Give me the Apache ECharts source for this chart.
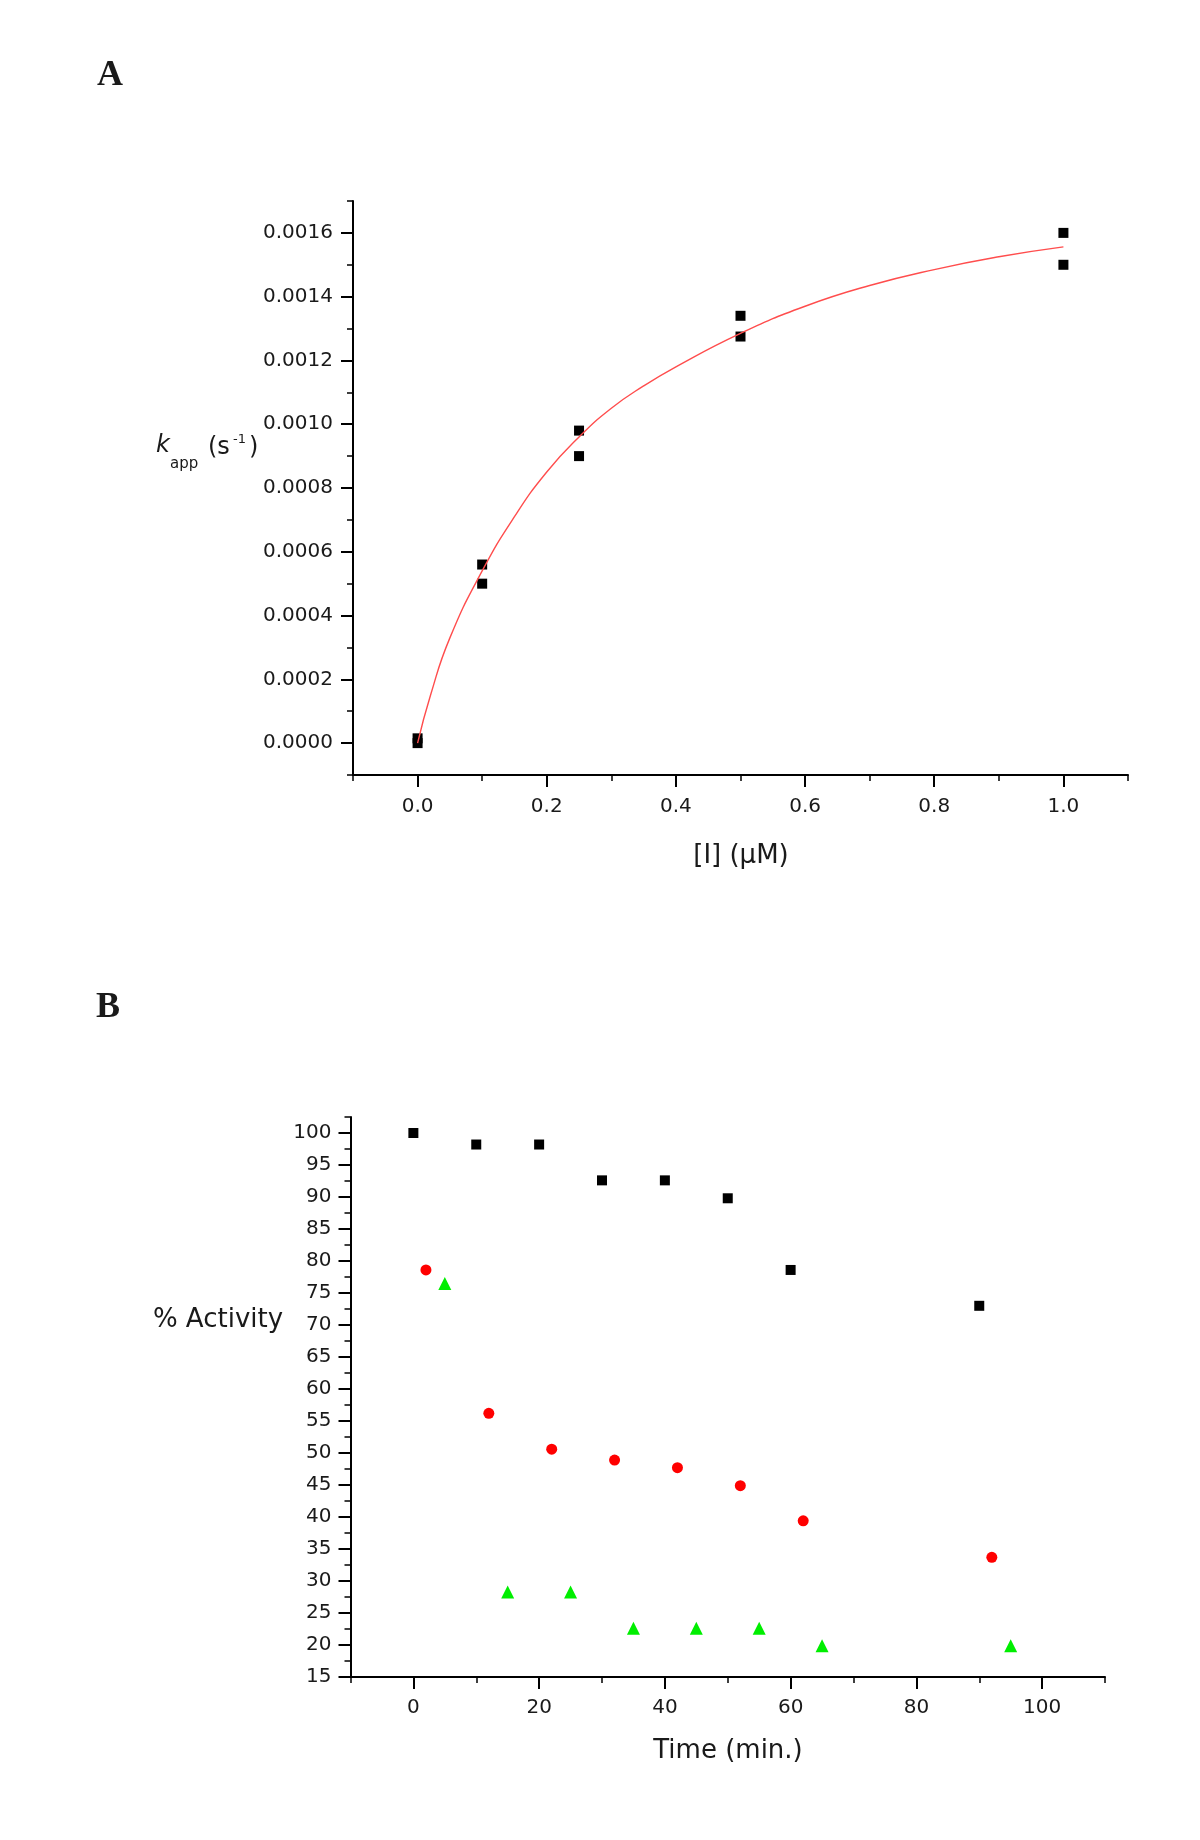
<!DOCTYPE html>
<html>
<head>
<meta charset="utf-8">
<script src="https://cdn.jsdelivr.net/npm/echarts@6/dist/echarts.min.js"></script>
<style>
  html, body { margin: 0; padding: 0; background: #fff; }
  #chart { width: 1200px; height: 1840px; }
</style>
</head>
<body>
<div id="chart"></div>
<script>
// ---------- Panel A data ----------
const inhibitorConc = [0, 0, 0.1, 0.1, 0.25, 0.25, 0.5, 0.5, 1.0, 1.0];
const kAppValues    = [0.000015, 0.0, 0.00056, 0.00050, 0.00098, 0.00090, 0.00134, 0.001275, 0.0016, 0.0015];
// fitted curve
const fitConc = [0, 0.02, 0.05, 0.1, 0.15, 0.2, 0.25, 0.3, 0.35, 0.4, 0.5, 0.6, 0.7, 0.8, 0.9, 1.0];
const fitKApp = [0, 0.00015, 0.00033, 0.00054, 0.00071, 0.00085, 0.00096, 0.00105, 0.00112, 0.00118, 0.001285, 0.00137, 0.001435, 0.001485, 0.001525, 0.001556];
const aXMajorTicks = [0, 0.2, 0.4, 0.6, 0.8, 1.0];
const aYMajorTicks = [0, 0.0002, 0.0004, 0.0006, 0.0008, 0.0010, 0.0012, 0.0014, 0.0016];

// ---------- Panel B data ----------
const timeBlack  = [0, 10, 20, 30, 40, 50, 60, 90];
const actBlack   = [100, 98.2, 98.2, 92.6, 92.6, 89.8, 78.6, 73.0];
const timeRed    = [2, 12, 22, 32, 42, 52, 62, 92];
const actRed     = [78.6, 56.2, 50.6, 48.9, 47.7, 44.9, 39.4, 33.7];
const timeGreen  = [5, 15, 25, 35, 45, 55, 65, 95];
const actGreen   = [76.5, 28.3, 28.3, 22.6, 22.6, 22.6, 19.9, 19.9];
const bXMajorTicks = [0, 20, 40, 60, 80, 100];
const bYMajorTicks = [15, 20, 25, 30, 35, 40, 45, 50, 55, 60, 65, 70, 75, 80, 85, 90, 95, 100];

const zip = (a, b) => a.map((v, i) => [v, b[i]]);
const FONT = 'DejaVu Sans';

function mainAxis(gridIndex, pos, min, max, interval, margin, fmt) {
  return {
    type: 'value', gridIndex, position: pos, min, max, interval,
    axisLine: { show: true, onZero: false, lineStyle: { color: '#000', width: 2 } },
    axisTick: { show: true, inside: false, length: 6, lineStyle: { color: '#000', width: 1.5 } },
    axisLabel: { show: true, margin, formatter: fmt, color: '#1a1a1a', fontFamily: FONT, fontSize: 20,
                 showMinLabel: true, showMaxLabel: true, hideOverlap: false },
    splitLine: { show: false }, minorTick: { show: false }
  };
}
function majorAxis(gridIndex, pos, min, max, ticks) {
  return {
    type: 'value', gridIndex, position: pos, min, max,
    axisLine: { show: false, onZero: false },
    axisTick: { show: true, inside: false, length: 12, customValues: ticks, lineStyle: { color: '#000', width: 2 } },
    axisLabel: { show: false },
    splitLine: { show: false }
  };
}
function txt(text, x, y, font, align) {
  return { type: 'text', x, y, silent: true,
    style: { text, font, fill: '#1a1a1a', align: align || 'left', verticalAlign: 'middle',
             textAlign: align || 'left', textVerticalAlign: 'middle' } };
}

const chart = echarts.init(document.getElementById('chart'), null, { renderer: 'canvas' });
chart.setOption({
  animation: false,
  backgroundColor: '#fff',
  grid: [
    { left: 353, top: 201, width: 775, height: 574 },
    { left: 350.5, top: 1117, width: 754.5, height: 560 }
  ],
  xAxis: [
    mainAxis(0, 'bottom', -0.1, 1.1, 0.1, 22, v => {
      const k = Math.round(v * 10); return (k >= 0 && k <= 10 && k % 2 === 0) ? (k / 10).toFixed(1) : '';
    }),
    majorAxis(0, 'bottom', -0.1, 1.1, aXMajorTicks),
    mainAxis(1, 'bottom', -10, 110, 10, 21, v => {
      const k = Math.round(v); return (k >= 0 && k <= 100 && k % 20 === 0) ? String(k) : '';
    }),
    majorAxis(1, 'bottom', -10, 110, bXMajorTicks)
  ],
  yAxis: [
    mainAxis(0, 'left', -0.0001, 0.0017, 0.0001, 20, v => {
      const k = Math.round(v / 0.0001); return (k >= 0 && k <= 16 && k % 2 === 0) ? (k * 0.0001).toFixed(4) : '';
    }),
    majorAxis(0, 'left', -0.0001, 0.0017, aYMajorTicks),
    mainAxis(1, 'left', 15, 102.5, 2.5, 19, v => {
      const k = Math.round(v * 2); return (k % 10 === 0 && v <= 100) ? String(Math.round(v)) : '';
    }),
    majorAxis(1, 'left', 15, 102.5, bYMajorTicks)
  ],
  series: [
    { type: 'scatter', xAxisIndex: 0, yAxisIndex: 0, symbol: 'rect', symbolSize: 10,
      itemStyle: { color: '#000', opacity: 1 }, data: zip(inhibitorConc, kAppValues) },
    { type: 'line', xAxisIndex: 0, yAxisIndex: 0, smooth: 0.5, showSymbol: false, symbol: 'none',
      lineStyle: { color: '#ff4d4d', width: 1.4 }, data: zip(fitConc, fitKApp), z: 3 },
    { type: 'scatter', xAxisIndex: 2, yAxisIndex: 2, symbol: 'rect', symbolSize: 10,
      itemStyle: { color: '#000', opacity: 1 }, data: zip(timeBlack, actBlack) },
    { type: 'scatter', xAxisIndex: 2, yAxisIndex: 2, symbol: 'circle', symbolSize: 11,
      itemStyle: { color: '#ff0000', opacity: 1 }, data: zip(timeRed, actRed) },
    { type: 'scatter', xAxisIndex: 2, yAxisIndex: 2, symbol: 'triangle', symbolSize: 13,
      itemStyle: { color: '#00ee00', opacity: 1 }, data: zip(timeGreen, actGreen) }
  ],
  graphic: [
    txt('A', 97, 76, 'bold 36px "Liberation Serif"'),
    txt('B', 96, 1008, 'bold 36px "Liberation Serif"'),
    // y title panel A: k_app (s^-1)
    txt('k', 156, 446, 'italic 24px "DejaVu Sans"'),
    txt('app', 170, 464, '15px "DejaVu Sans"'),
    txt('(s', 208, 448, '24px "DejaVu Sans"'),
    txt('-1', 233, 440, '13px "DejaVu Sans"'),
    txt(')', 249, 448, '24px "DejaVu Sans"'),
    txt('[I] (\u00B5M)', 741, 856, '26px "DejaVu Sans"', 'center'),
    txt('% Activity', 218, 1320, '26px "DejaVu Sans"', 'center'),
    txt('Time (min.)', 728, 1751, '26px "DejaVu Sans"', 'center')
  ]
});
</script>
</body>
</html>
